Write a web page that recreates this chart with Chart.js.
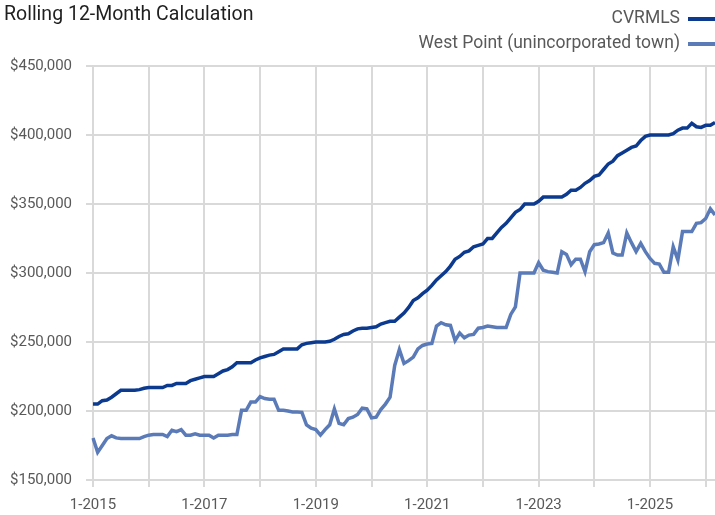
<!DOCTYPE html>
<html>
<head>
<meta charset="utf-8">
<script src="https://cdn.jsdelivr.net/npm/chart.js@4/dist/chart.umd.min.js"></script>
<style>
  html, body { margin: 0; padding: 0; background: #fff; }
  #wrap { width: 715px; height: 515px; }
</style>
</head>
<body>
<div id="wrap"><canvas id="chart" width="715" height="515"></canvas></div>
<script>
// Monthly labels, 1-2015 .. 3-2026
const months = [];
for (let y = 2015; y <= 2026; y++) {
  for (let m = 1; m <= 12; m++) {
    if (y === 2026 && m > 3) break;
    months.push(`${m}-${y}`);
  }
}

// Rolling 12-month values
const cvrmls = [
  205000, 205000, 207500, 208000, 210000, 212500, 215000, 215000, 215000, 215000, 215500, 216500,
  217000, 217000, 217000, 217000, 218500, 218500, 220000, 220000, 220000, 222000, 223000, 224000,
  225000, 225000, 225000, 227000, 229000, 230000, 232000, 235000, 235000, 235000, 235000, 237000,
  238500, 239500, 240500, 241000, 243000, 245000, 245000, 245000, 245000, 248000, 249000, 249500,
  250000, 250000, 250000, 250500, 252000, 254000, 255500, 256000, 258000, 259500, 260000, 260000,
  260500, 261000, 263000, 264000, 265000, 265000, 268000, 271000, 275000, 280000, 282000, 285000,
  287500, 291000, 295000, 298000, 301000, 305000, 310000, 312000, 315000, 316000, 319000, 320000,
  321000, 325000, 325000, 329000, 333000, 336000, 340000, 344000, 346000, 350000, 350000, 350000,
  352000, 355000, 355000, 355000, 355000, 355000, 357000, 360000, 360000, 362000, 365000, 367000,
  370000, 371000, 375000, 379000, 381000, 385000, 387000, 389000, 391000, 392000, 396000, 399000,
  400000, 400000, 400000, 400000, 400000, 401000, 403500, 405000, 405000, 408500, 406000, 405500,
  407000, 407000, 409000
];

const westPoint = [
  180500, 170000, 175000, 180000, 182000, 180500, 180000, 180000, 180000, 180000, 180000, 181500,
  182500, 183000, 183000, 183000, 181500, 186000, 185000, 186500, 182500, 182500, 183500, 182500,
  182500, 182500, 180500, 182500, 182500, 182500, 183000, 183000, 200500, 200500, 206500, 206500,
  210400, 209000, 208500, 208500, 200500, 200500, 200000, 199300, 199300, 199000, 190000, 187500,
  186500, 182500, 186500, 190000, 201500, 191000, 190000, 194500, 195500, 197500, 202000, 201500,
  195000, 195500, 201000, 205000, 210000, 233000, 244500, 234500, 236500, 239000, 245000, 247500,
  248500, 249000, 261500, 264000, 262500, 262000, 251000, 256500, 253000, 255000, 255500, 260000,
  260500, 261500, 261000, 260500, 260500, 260500, 270000, 275500, 300000, 300000, 300000, 300000,
  307500, 302000, 301000, 300500, 300000, 315400, 313500, 306000, 310000, 310000, 301000, 315400,
  320500, 321000, 322000, 329000, 314500, 313000, 313000, 329000, 322000, 315500, 321500, 315500,
  310500, 307000, 306500, 300500, 300500, 319000, 309500, 330000, 330000, 330000, 336000, 336500,
  339500, 346500, 342000
];

const yTicks = [150000, 200000, 250000, 300000, 350000, 400000, 450000];

const FONT = 'Roboto, "Liberation Sans", sans-serif';
const GRID = '#d9d9d9';
const TEXT = '#595959';

// Titre + légende à droite (texte puis trait)
const headerPlugin = {
  id: 'header',
  afterDraw(chart) {
    const ctx = chart.ctx;
    ctx.save();
    ctx.fillStyle = '#1f1f1f';
    ctx.font = `19.5px ${FONT}`;
    ctx.textAlign = 'left';
    ctx.textBaseline = 'alphabetic';
    ctx.fillText('Rolling 12-Month Calculation', 4, 20);

    const rows = [{ y: 19 }, { y: 44 }];
    ctx.font = `17.5px ${FONT}`;
    ctx.textAlign = 'right';
    ctx.textBaseline = 'middle';
    chart.data.datasets.forEach((ds, i) => {
      const y = rows[i].y;
      ctx.fillStyle = TEXT;
      ctx.fillText(ds.label, 680, y);
      ctx.strokeStyle = ds.borderColor;
      ctx.lineWidth = 4;
      ctx.beginPath();
      ctx.moveTo(688, y);
      ctx.lineTo(716, y);
      ctx.stroke();
    });
    ctx.restore();
  }
};

new Chart(document.getElementById('chart'), {
  type: 'line',
  data: {
    labels: months,
    datasets: [
      { label: 'CVRMLS', data: cvrmls, borderColor: '#0b3a8e', borderWidth: 3.5,
        pointRadius: 0, tension: 0 },
      { label: 'West Point (unincorporated town)', data: westPoint, borderColor: '#5b7bb8',
        borderWidth: 3.5, pointRadius: 0, tension: 0 }
    ]
  },
  options: {
    responsive: false,
    animation: false,
    devicePixelRatio: 1,
    layout: { padding: { top: 66, right: 0, left: 0, bottom: 0 } },
    plugins: {
      legend: { display: false },
      title: { display: false },
      tooltip: { enabled: false }
    },
    scales: {
      x: {
        type: 'category',
        offset: false,
        afterFit: s => { s.height = 35; s.paddingLeft = 0; s.paddingRight = 0; },
        border: { display: false },
        grid: {
          color: c => (c.index % 12 === 0 ? GRID : 'rgba(0,0,0,0)'),
          tickColor: c => (c.index % 12 === 0 ? GRID : 'rgba(0,0,0,0)'),
          lineWidth: 2,
          tickLength: 7
        },
        ticks: {
          autoSkip: false,
          maxRotation: 0,
          minRotation: 0,
          padding: 9,
          color: TEXT,
          font: { family: FONT, size: 15 },
          callback: (v, i) => (i % 24 === 0 ? months[i] : '')
        }
      },
      y: {
        min: 150000,
        max: 450000,
        afterFit: s => { s.width = 93; },
        afterBuildTicks: s => { s.ticks = yTicks.map(v => ({ value: v })); },
        border: { display: false },
        grid: { color: GRID, lineWidth: 2, tickLength: 7 },
        ticks: {
          padding: 14,
          color: TEXT,
          font: { family: FONT, size: 15 },
          callback: v => '$' + v.toLocaleString('en-US')
        }
      }
    }
  },
  plugins: [headerPlugin]
});
</script>
</body>
</html>
